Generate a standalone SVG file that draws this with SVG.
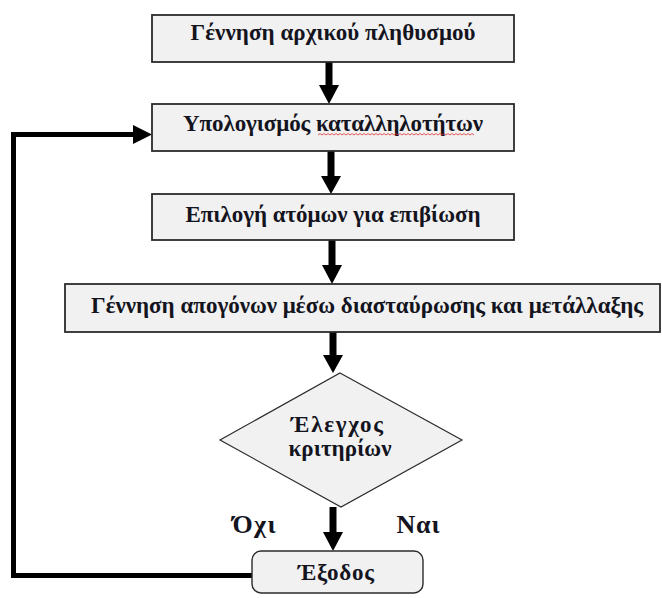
<svg xmlns="http://www.w3.org/2000/svg" width="662" height="598" viewBox="0 0 662 598">
  <defs>
    <style>
      .box { fill: #f1f1f1; stroke: #2b2b2b; stroke-width: 1.8; }
      .lbl { font-family: "Liberation Serif", "Times New Roman", serif; font-weight: bold; font-size: 23px; fill: #14141e; text-anchor: middle; }
      .mid { font-size: 23px; }
      .big { font-size: 26px; }
      .edge { fill: none; stroke: #000; stroke-width: 7; }
      .loop { fill: none; stroke: #000; stroke-width: 5; stroke-linejoin: miter; }
      .head { fill: #000; }
    </style>
  </defs>

  <rect width="662" height="598" fill="#ffffff"/>

  <!-- connectors -->
  <g id="connectors">
    <!-- init -> fitness -->
    <line class="edge" x1="329" y1="62" x2="329" y2="86"/>
    <polygon class="head" points="319,85 339,85 329,104"/>
    <!-- fitness -> selection -->
    <line class="edge" x1="331" y1="151" x2="331" y2="177"/>
    <polygon class="head" points="321,176 341,176 331,194"/>
    <!-- selection -> offspring -->
    <line class="edge" x1="332" y1="240" x2="332" y2="266"/>
    <polygon class="head" points="322,265 342,265 332,284"/>
    <!-- offspring -> decision -->
    <line class="edge" x1="333" y1="332" x2="333" y2="356"/>
    <polygon class="head" points="323,355 343,355 333,373"/>
    <!-- decision -> exit -->
    <line class="edge" x1="333" y1="507" x2="333" y2="533"/>
    <polygon class="head" points="323,532 343,532 333,551"/>
    <!-- feedback loop back to fitness -->
    <polyline class="loop" points="252,575.5 13.5,575.5 13.5,134.5 134,134.5"/>
    <polygon class="head" points="133,125 152,134.5 133,144"/>
  </g>

  <g id="init">
    <rect class="box" x="152" y="15" width="362" height="47"/>
    <text class="lbl" x="333" y="40" textLength="285" lengthAdjust="spacing">Γέννηση αρχικού πληθυσμού</text>
  </g>

  <g id="fitness">
    <rect class="box" x="152" y="104" width="362" height="47"/>
    <text class="lbl" x="333" y="131" textLength="300" lengthAdjust="spacing">Υπολογισμός καταλληλοτήτων</text>
    <!-- spell-check squiggle -->
    <path d="M318,135 l2,-1.5 2,1.5 2,-1.5 2,1.5 2,-1.5 2,1.5 2,-1.5 2,1.5 2,-1.5 2,1.5 2,-1.5 2,1.5 2,-1.5 2,1.5 2,-1.5 2,1.5 2,-1.5 2,1.5 2,-1.5 2,1.5 2,-1.5 2,1.5 2,-1.5 2,1.5 2,-1.5 2,1.5 2,-1.5 2,1.5 2,-1.5 2,1.5 2,-1.5 2,1.5 2,-1.5 2,1.5 2,-1.5 2,1.5 2,-1.5 2,1.5 2,-1.5 2,1.5 2,-1.5 2,1.5 2,-1.5 2,1.5 2,-1.5 2,1.5 2,-1.5 2,1.5 2,-1.5 2,1.5 2,-1.5 2,1.5 2,-1.5 2,1.5 2,-1.5 2,1.5 2,-1.5 2,1.5 2,-1.5 2,1.5 2,-1.5 2,1.5 2,-1.5 2,1.5 2,-1.5 2,1.5 2,-1.5 2,1.5 2,-1.5 2,1.5 2,-1.5 2,1.5 2,-1.5 2,1.5 2,-1.5 2,1.5 2,-1.5 2,1.5" fill="none" stroke="#e03030" stroke-width="0.8"/>
  </g>

  <g id="selection">
    <rect class="box" x="152" y="194" width="362" height="46"/>
    <text class="lbl" x="333" y="222" textLength="295" lengthAdjust="spacing">Επιλογή ατόμων για επιβίωση</text>
  </g>

  <g id="offspring">
    <rect class="box" x="65" y="284" width="595" height="48"/>
    <text class="lbl" x="367" y="313" textLength="552" lengthAdjust="spacing">Γέννηση απογόνων μέσω διασταύρωσης και μετάλλαξης</text>
  </g>

  <g id="decision">
    <polygon class="box" points="340,373 462,440 341,507 220,440" style="stroke-width:1.2"/>
    <text class="lbl mid" x="337" y="432" textLength="92" lengthAdjust="spacing">Έλεγχος</text>
    <text class="lbl mid" x="340" y="456" textLength="103" lengthAdjust="spacing">κριτηρίων</text>
  </g>

  <g id="labels">
    <text class="lbl big" x="254" y="533" textLength="43" lengthAdjust="spacing">Όχι</text>
    <text class="lbl big" x="418" y="533" textLength="43" lengthAdjust="spacing">Ναι</text>
  </g>

  <g id="exit">
    <rect class="box" x="252" y="551" width="171" height="42" rx="9" ry="9" style="stroke-width:1.4"/>
    <text class="lbl" x="336" y="580" textLength="76" lengthAdjust="spacing">Έξοδος</text>
  </g>
</svg>
